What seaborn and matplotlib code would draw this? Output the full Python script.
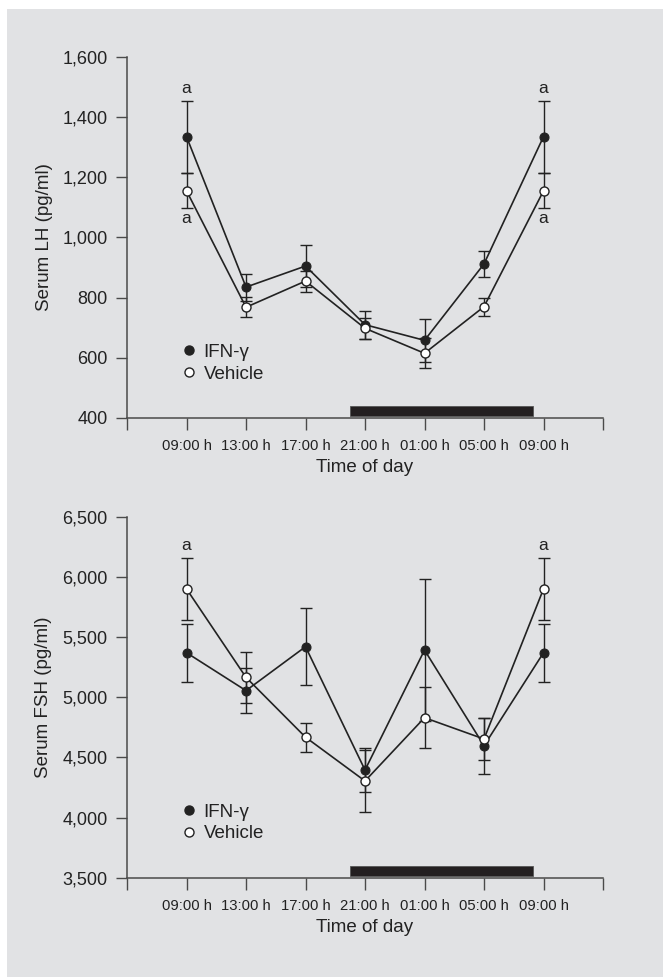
import numpy as np
import pandas as pd
import seaborn as sns
import matplotlib.pyplot as plt
from matplotlib.lines import Line2D
from matplotlib.patches import Rectangle
from matplotlib.ticker import FuncFormatter

# time points (two 09:00 entries: start and end of the 24 h cycle)
times = ['09:00 h', '13:00 h', '17:00 h', '21:00 h', '01:00 h', '05:00 h', '09:00 h']

# serum LH (pg/ml), mean and SEM
lh_ifn = [1335, 835, 905, 710, 658, 912, 1335]
lh_ifn_se = [120, 45, 70, 46, 72, 44, 120]
lh_veh = [1155, 768, 855, 698, 615, 770, 1155]
lh_veh_se = [58, 33, 35, 35, 50, 30, 58]

# serum FSH (pg/ml), mean and SEM
fsh_ifn = [5370, 5055, 5420, 4395, 5392, 4597, 5370]
fsh_ifn_se = [240, 187, 322, 180, 593, 233, 240]
fsh_veh = [5900, 5165, 4668, 4304, 4830, 4653, 5900]
fsh_veh_se = [260, 210, 120, 255, 252, 177, 260]

# dark phase (in tick units, 21:00 h = 4)
night = [3.75, 6.83]

sns.set_style("ticks")
plt.rcParams['font.family'] = ['Liberation Sans', 'DejaVu Sans']

bg = '#e1e2e4'
ink = '#222222'
axc = '#4a4a4a'

fig = plt.figure(figsize=(6.63, 9.77), dpi=100, facecolor='white')
fig.patches.append(Rectangle((7 / 663, 0), 1, 1 - 9 / 977, transform=fig.transFigure,
                             facecolor=bg, edgecolor='none', zorder=-10))

ax1 = fig.add_axes([0.1916, 0.5722, 0.7179, 0.3695])
ax2 = fig.add_axes([0.1916, 0.1016, 0.7179, 0.3695])

x = np.arange(1, len(times) + 1)


def panel(ax, ifn, ifn_se, veh, veh_se, ylim, step, ylabel):
    ax.set_facecolor('none')
    ax.errorbar(x, ifn, yerr=ifn_se, fmt='none', ecolor=ink, elinewidth=1,
                capsize=4.2, capthick=1, zorder=2)
    ax.errorbar(x, veh, yerr=veh_se, fmt='none', ecolor=ink, elinewidth=1,
                capsize=4.2, capthick=1, zorder=2)
    sns.lineplot(x=x, y=ifn, ax=ax, color=ink, lw=1.2, marker='o', markersize=6.5,
                 markerfacecolor=ink, markeredgecolor=ink, zorder=3)
    sns.lineplot(x=x, y=veh, ax=ax, color=ink, lw=1.2, marker='o', markersize=6.5,
                 markerfacecolor='white', markeredgecolor=ink, markeredgewidth=1, zorder=4)

    ax.set_xlim(0, 8)
    ax.set_ylim(*ylim)
    ax.set_xticks(range(0, 9))
    ax.set_xticklabels([''] + times + [''], fontsize=10.7, color=ink)
    ax.set_yticks(np.arange(ylim[0], ylim[1] + 1, step))
    ax.yaxis.set_major_formatter(FuncFormatter(lambda v, p: f'{int(v):,}'))
    ax.tick_params(axis='y', labelsize=13, length=8, width=1, color=axc, pad=6, labelcolor=ink)
    ax.tick_params(axis='x', length=8.5, width=1, color=axc, pad=7)
    for s in ['top', 'right']:
        ax.spines[s].set_visible(False)
    for s in ['left', 'bottom']:
        ax.spines[s].set_color(axc)
        ax.spines[s].set_linewidth(1.1)
    ax.set_xlabel('Time of day', fontsize=13.5, color=ink, labelpad=4)
    ax.set_ylabel(ylabel, fontsize=13.5, color=ink, labelpad=7)

    # dark phase bar
    ax.add_patch(Rectangle((night[0], 0.006), night[1] - night[0], 0.027,
                           transform=ax.get_xaxis_transform(), facecolor='#231f20',
                           edgecolor='#555555', lw=0.6, clip_on=False, zorder=5))

    handles = [Line2D([], [], ls='none', marker='o', markersize=6.5, color=ink),
               Line2D([], [], ls='none', marker='o', markersize=6.5, markerfacecolor='white',
                      markeredgecolor=ink)]
    ax.legend(handles, ['IFN-γ', 'Vehicle'], loc='center left', bbox_to_anchor=(0.1, 0.152),
              frameon=False, fontsize=13.5, handlelength=0.5, handletextpad=0.55,
              labelspacing=0.25, borderpad=0, labelcolor=ink)


panel(ax1, lh_ifn, lh_ifn_se, lh_veh, lh_veh_se, (400, 1600), 200, 'Serum LH (pg/ml)')
panel(ax2, fsh_ifn, fsh_ifn_se, fsh_veh, fsh_veh_se, (3500, 6500), 500, 'Serum FSH (pg/ml)')

# significance letters
for i in [0, 6]:
    ax1.annotate('a', (x[i], lh_ifn[i] + lh_ifn_se[i]), xytext=(0, 3), textcoords='offset points',
                 ha='center', va='bottom', fontsize=12.5, color=ink)
    ax1.annotate('a', (x[i], lh_veh[i] - lh_veh_se[i]), xytext=(0, -2), textcoords='offset points',
                 ha='center', va='top', fontsize=12.5, color=ink)
    ax2.annotate('a', (x[i], fsh_veh[i] + fsh_veh_se[i]), xytext=(0, 3), textcoords='offset points',
                 ha='center', va='bottom', fontsize=12.5, color=ink)

fig.savefig('out.png', dpi=100, facecolor='white')
